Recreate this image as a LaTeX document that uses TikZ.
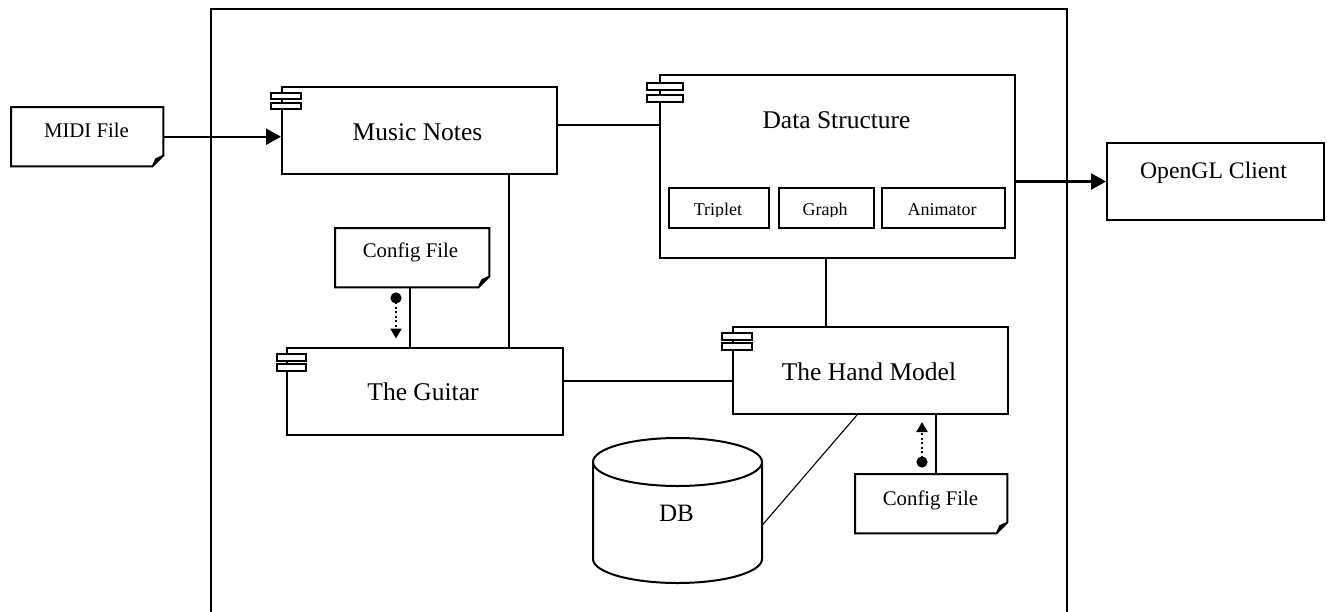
\documentclass[tikz,border=0pt]{standalone}
\usepackage{fontspec}
\setmainfont{Liberation Serif}
\usetikzlibrary{arrows.meta,calc}
\tikzset{
  box/.style={draw, line width=2pt, anchor=north west, inner sep=0pt, fill=white},
  filebox/.style={anchor=north west, inner sep=0pt},
  lbl/.style={anchor=base, inner sep=0pt},
  big/.style={lbl, font=\fontsize{25.5}{30}\selectfont},
  small/.style={lbl, font=\fontsize{20.8}{25}\selectfont},
  mid/.style={lbl, font=\fontsize{23.7}{28}\selectfont},
  tiny/.style={lbl, font=\fontsize{18}{22}\selectfont},
  conn/.style={line width=1.1pt},
  arr/.style={line width=2.2pt, -{Triangle[length=15pt,width=16pt]}},
  darr/.style={line width=2.2pt, dash pattern=on 2pt off 2.5pt, {Circle[length=11pt]}-{Triangle[length=10pt,width=11pt]}},
  icon/.style={line width=1.6pt, draw, fill=white}
}
\newcommand\docshape[1]{%
  \draw[line width=2pt, fill=white] (#1.north west) -- (#1.north east) -- ([yshift=11pt]#1.south east) -- ([xshift=-11pt]#1.south east) -- (#1.south west) -- cycle;
  \fill ([xshift=-11pt]#1.south east) -- ([xshift=-7.5pt,yshift=7.5pt]#1.south east) -- ([yshift=11pt]#1.south east) -- cycle;
  \draw[line width=1.4pt] ([xshift=-11pt]#1.south east) -- ([xshift=-7.5pt,yshift=7.5pt]#1.south east) -- ([yshift=11pt]#1.south east);}
\begin{document}
\begin{tikzpicture}[x=1pt,y=-1pt]
\useasboundingbox (0,0) rectangle (1327,611);
% frame
\draw[line width=2.8pt] (211,614) -- (211,9) -- (1067,9) -- (1067,614);

% boxes
\node[filebox, minimum width=152, minimum height=59] (midi) at (11,107) {};
\docshape{midi}
\node[box, minimum width=275, minimum height=87] (mn) at (281,86) {};
\node[box, minimum width=355, minimum height=183] (ds) at (659,74) {};
\node[box, minimum width=100, minimum height=40] (tri) at (668,187) {};
\node[box, minimum width=95, minimum height=40] (gra) at (778,187) {};
\node[box, minimum width=123, minimum height=40] (ani) at (881,187) {};
\node[box, minimum width=217, minimum height=77] (gl) at (1106,142) {};
\node[filebox, minimum width=154, minimum height=59] (cf1) at (335,228) {};
\docshape{cf1}
\node[box, minimum width=276, minimum height=87] (gt) at (286,347) {};
\node[box, minimum width=275, minimum height=87] (hm) at (732,326) {};
\node[filebox, minimum width=152, minimum height=59] (cf2) at (855,474) {};
\docshape{cf2}
\node[filebox, minimum width=169, minimum height=145] (db) at (593,438) {};
\draw[line width=2pt, fill=white] (593,462) -- (593,559) arc[start angle=180,end angle=360,x radius=84.5pt,y radius=24pt] -- (762,462);
\draw[line width=2pt, fill=white] (677.5,462) ellipse [x radius=84.5pt, y radius=24pt];

% component icons
\draw[icon] (271,93) rectangle (301,99);
\draw[icon] (271,103) rectangle (301,109);
\draw[icon] (647,83) rectangle (683,90);
\draw[icon] (647,95) rectangle (683,102);
\draw[icon] (277,354) rectangle (306,361);
\draw[icon] (277,364) rectangle (306,371);
\draw[icon] (722,333) rectangle (752,340);
\draw[icon] (722,343) rectangle (752,350);

% labels
\node[small] (tmidi) at (86.5,137.5) {MIDI File};
\node[big] (tmn) at (417.5,140) {Music Notes};
\node[big] (tds) at (836.5,128.3) {Data Structure};
\begin{scope}
  \clip (668,187) rectangle (1004,216.3);
  \node[tiny] (ttri) at (718,215.5) {Triplet};
  \node[tiny] (tgra) at (825,215.5) {Graph};
  \node[tiny] (tani) at (942,215.5) {Animator};
\end{scope}
\node[mid] (tgl) at (1213.5,178) {OpenGL Client};
\node[small] (tcf1) at (410.5,257.7) {Config File};
\node[big] (tgt) at (423,400) {The Guitar};
\node[big] (thm) at (869,380) {The Hand Model};
\node[small] (tcf2) at (930.5,505) {Config File};
\node[lbl, font=\fontsize{25}{30}\selectfont] (tdb) at (676.5,521.7) {DB};

% helper coordinates
\coordinate (x509) at (509,0);
\coordinate (x410) at (410,0);
\coordinate (x826) at (826,0);
\coordinate (x857) at (857,0);
\coordinate (x936) at (936,0);
\coordinate (y381) at (0,381);
\coordinate (y525) at (0,525);
\coordinate (mnr) at ([yshift=5.5pt]mn.east);
\coordinate (d1a) at (396,292.5);
\coordinate (d1b) at (396,338.5);
\coordinate (d2a) at (922,467.5);
\coordinate (d2b) at (922,422);

% connectors
\draw[arr] (midi.east) -- (midi.east -| mn.west);
\draw[conn] (mnr) -- (mnr -| ds.west);
\draw[conn] (mn.south -| x509) -- (gt.north -| x509);
\draw[conn] (cf1.south -| x410) -- (gt.north -| x410);
\draw[darr] (d1a) -- (d1b);
\draw[conn] (ds.south -| x826) -- (hm.north -| x826);
\draw[arr] (ds.east |- gl.west) -- (gl.west);
\draw[conn] (gt.east |- y381) -- (hm.west |- y381);
\draw[conn] (hm.south -| x857) -- (db.east |- y525);
\draw[conn] (hm.south -| x936) -- (cf2.north -| x936);
\draw[darr] (d2a) -- (d2b);
\end{tikzpicture}
\end{document}
